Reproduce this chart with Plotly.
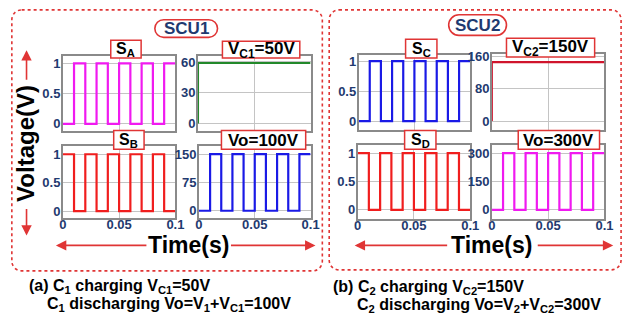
import plotly.graph_objects as go

W, H = 634, 318

# ---------------- data ----------------
t_switch = [0, 0.01, 0.02, 0.03, 0.04, 0.05, 0.06, 0.07, 0.08, 0.09, 0.1]
s_a = [0, 1, 0, 1, 0, 1, 0, 1, 0, 1, 1]
s_b = [1, 0, 1, 0, 1, 0, 1, 0, 1, 0, 0]
vo_1 = [0, 150, 0, 150, 0, 150, 0, 150, 0, 150, 150]
s_c = [0, 1, 0, 1, 0, 1, 0, 1, 0, 1, 1]
s_d = [1, 0, 1, 0, 1, 0, 1, 0, 1, 0, 0]
vo_2 = [0, 300, 0, 300, 0, 300, 0, 300, 0, 300, 300]
t_cap = [0, 0, 0.1]
vc_1 = [0, 59, 59]
vc_2 = [0, 145, 145]

x_ticks = [0, 0.05, 0.1]
x_ticktext = ["0", "0.05", "0.1"]
sw_ticks = [0, 0.5, 1]
vc1_ticks = [0, 30, 60]
vo1_ticks = [0, 75, 150]
vc2_ticks = [0, 80, 160]
vo2_ticks = [0, 150, 300]

FONT = "Liberation Sans, Arial, sans-serif"
NAVY = "#1F3A70"
RED = "#E03535"


def X(p):
    return p / W


def Y(p):
    return 1 - p / H


panels = [
    # x, y, color, (x0,x1,y0,y1 px), yrange, ytickvals, show x labels
    (t_switch, s_a, "#F01AF0", (60, 175, 52, 128), [-0.11, 1.12], sw_ticks, False),
    (t_cap, vc_1, "#22892A", (198, 313, 52, 128), [-6.8, 65.8], vc1_ticks, False),
    (t_switch, s_b, "#F01E1E", (60, 175, 144, 217), [-0.12, 1.14], sw_ticks, True),
    (t_switch, vo_1, "#1A1AE6", (199, 313, 144, 217), [-19, 171], vo1_ticks, True),
    (t_switch, s_c, "#1A1AE6", (362, 476, 51, 127), [-0.14, 1.1], sw_ticks, False),
    (t_cap, vc_2, "#D0142C", (498, 613, 50, 127), [-21, 165], vc2_ticks, False),
    (t_switch, s_d, "#F01E1E", (361, 476, 143, 218), [-0.16, 1.14], sw_ticks, True),
    (t_switch, vo_2, "#F01AF0", (498, 613, 143, 218), [-48, 342], vo2_ticks, True),
]

fig = go.Figure()
layout = {}
for i, (xs, ys, col, (x0, x1, y0, y1), yr, ytv, showx) in enumerate(panels, start=1):
    sfx = "" if i == 1 else str(i)
    fig.add_trace(go.Scatter(
        x=xs, y=ys, mode="lines", line=dict(color=col, width=2.2, shape="hv"),
        xaxis="x" + sfx, yaxis="y" + sfx, showlegend=False, hoverinfo="skip"))
    tickfont = dict(family=FONT, size=13, color=NAVY, weight=700)
    layout["xaxis" + sfx] = dict(
        domain=[X(x0), X(x1)], anchor="y" + sfx, range=[0, 0.1],
        tickvals=x_ticks, ticktext=x_ticktext, showticklabels=showx,
        showline=True, mirror=True, linecolor="#8a8a8a", linewidth=1.5,
        showgrid=True, gridcolor="#c4c4c4", gridwidth=1, zeroline=False,
        ticks="", tickfont=tickfont, fixedrange=True, ticklabelstandoff=-6)
    layout["yaxis" + sfx] = dict(
        domain=[Y(y1), Y(y0)], anchor="x" + sfx, range=yr,
        tickvals=ytv, ticktext=[("0.5" if v == 0.5 else str(v)) for v in ytv],
        showline=True, mirror=True, linecolor="#8a8a8a", linewidth=1.5,
        showgrid=True, gridcolor="#c4c4c4", gridwidth=1, zeroline=False,
        ticks="", tickfont=tickfont, fixedrange=True, ticklabelstandoff=-2)

fig.update_layout(**layout)

shapes = []
annotations = []


def rounded_path(x0, y0, x1, y1, r):
    k = 0.5523 * r
    pts = [
        ("M", [(x0 + r, y0)]),
        ("L", [(x1 - r, y0)]),
        ("C", [(x1 - r + k, y0), (x1, y0 + r - k), (x1, y0 + r)]),
        ("L", [(x1, y1 - r)]),
        ("C", [(x1, y1 - r + k), (x1 - r + k, y1), (x1 - r, y1)]),
        ("L", [(x0 + r, y1)]),
        ("C", [(x0 + r - k, y1), (x0, y1 - r + k), (x0, y1 - r)]),
        ("L", [(x0, y0 + r)]),
        ("C", [(x0, y0 + r - k), (x0 + r - k, y0), (x0 + r, y0)]),
    ]
    s = ""
    for cmd, ps in pts:
        s += cmd + " " + " ".join(f"{X(px):.5f},{Y(py):.5f}" for px, py in ps) + " "
    return s + "Z"


# dotted panel outlines
for (x0, y0, x1, y1) in [(8, 5, 325, 271), (332, 5, 630, 270)]:
    shapes.append(dict(type="path", path=rounded_path(x0, y0, x1, y1, 10),
                       xref="paper", yref="paper",
                       line=dict(color=RED, width=1.6, dash="dot"), layer="above"))

# SCU pills
for (x0, y0, x1, y1, txt) in [(154, 15, 218, 33, "SCU1"), (454, 10, 513, 31, "SCU2")]:
    shapes.append(dict(type="path", path=rounded_path(x0, y0, x1, y1, (y1 - y0) / 2),
                       xref="paper", yref="paper", fillcolor="white",
                       line=dict(color=RED, width=1.6), layer="above"))
    annotations.append(dict(text=txt, x=X((x0 + x1) / 2), y=Y((y0 + y1) / 2),
                            xref="paper", yref="paper", showarrow=False,
                            xanchor="center", yanchor="middle",
                            font=dict(family=FONT, size=17, color=NAVY, weight=700)))

# title boxes
titles = [
    ((109, 36, 140, 54), "S<sub>A</sub>", 16),
    ((223, 37, 302, 54), "V<sub>C1</sub>=50V", 17),
    ((112, 128, 143, 147), "S<sub>B</sub>", 16),
    ((222, 128, 308, 147), "Vo=100V", 17),
    ((410, 35, 442, 54), "S<sub>C</sub>", 16),
    ((513, 34, 603, 53), "V<sub>C2</sub>=150V", 17),
    ((409, 128, 441, 147), "S<sub>D</sub>", 16),
    ((525, 128, 608, 147), "Vo=300V", 17),
]
for (x0, y0, x1, y1), txt, fs in titles:
    shapes.append(dict(type="rect", x0=X(x0), x1=X(x1), y0=Y(y1), y1=Y(y0),
                       xref="paper", yref="paper", fillcolor="white",
                       line=dict(color=RED, width=1.5), layer="above"))
    annotations.append(dict(text=txt, x=X((x0 + x1) / 2), y=Y((y0 + y1) / 2 + 0.5),
                            xref="paper", yref="paper", showarrow=False,
                            xanchor="center", yanchor="middle",
                            font=dict(family=FONT, size=fs, color="black", weight=700)))

# axis titles
for cx in [188, 498]:
    annotations.append(dict(text="Time(s)", x=X(cx), y=Y(245), xref="paper", yref="paper",
                            showarrow=False, xanchor="center", yanchor="middle",
                            font=dict(family=FONT, size=23, color="black", weight=700)))
annotations.append(dict(text="Voltage(V)", x=X(22), y=Y(141), xref="paper", yref="paper",
                        showarrow=False, xanchor="center", yanchor="middle", textangle=-90,
                        font=dict(family=FONT, size=24, color="black", weight=700)))

# arrows (head, tail)
arrows = [
    ((53, 245), (145, 245)), ((318, 245), (232, 245)),
    ((358, 245), (452, 245)), ((622, 245), (545, 245)),
    ((23, 46), (23, 77)), ((23, 235), (23, 207)),
]
for (hx, hy), (tx, ty) in arrows:
    annotations.append(dict(text="", x=X(hx), y=Y(hy), xref="paper", yref="paper",
                            ax=tx - hx, ay=ty - hy, axref="pixel", ayref="pixel",
                            showarrow=True, arrowhead=2, arrowsize=1.3, arrowwidth=1.6,
                            arrowcolor=RED))

# captions
caps = [
    (23, 287, "(a) C<sub>1</sub> charging V<sub>C1</sub>=50V"),
    (42, 305, "C<sub>1</sub> discharging Vo=V<sub>1</sub>+V<sub>C1</sub>=100V"),
    (334, 288, "(b) C<sub>2</sub> charging V<sub>C2</sub>=150V"),
    (358, 306, "C<sub>2</sub> discharging Vo=V<sub>2</sub>+V<sub>C2</sub>=300V"),
]
for x0, yc, txt in caps:
    annotations.append(dict(text=txt, x=X(x0), y=Y(yc), xref="paper", yref="paper",
                            showarrow=False, xanchor="left", yanchor="middle",
                            font=dict(family=FONT, size=16, color="black", weight=700)))

fig.update_layout(
    width=W, height=H, margin=dict(l=0, r=0, t=0, b=0),
    paper_bgcolor="white", plot_bgcolor="white",
    shapes=shapes, annotations=annotations, showlegend=False,
)

fig.write_html("out.html", config={"displayModeBar": False},
               post_script="document.body.style.margin='0';document.body.style.overflow='hidden';")
